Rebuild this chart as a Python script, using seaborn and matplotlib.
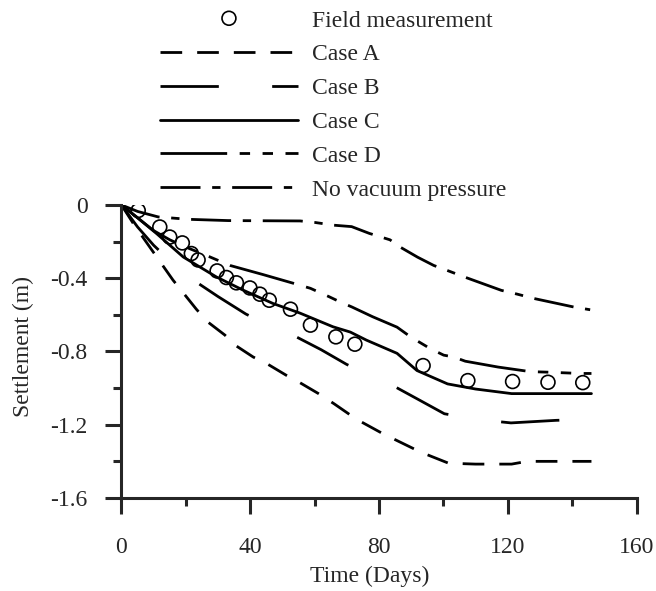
import numpy as np
import pandas as pd
import matplotlib
matplotlib.use("Agg")
import matplotlib.pyplot as plt
from matplotlib.ticker import MultipleLocator, FuncFormatter
import seaborn as sns

# Field measurement
field_t = [5.2, 11.9, 15.0, 18.9, 21.7, 23.8, 29.7, 32.6, 35.7, 39.9, 43.0, 45.9,
           52.5, 58.7, 66.6, 72.5, 93.7, 107.6, 121.5, 132.5, 143.3]
field_s = [-0.03, -0.12, -0.175, -0.207, -0.265, -0.30, -0.36, -0.396, -0.425, -0.453,
           -0.487, -0.52, -0.569, -0.656, -0.72, -0.76, -0.877, -0.959, -0.964, -0.968, -0.97]

# Case A
a_t = [0, 4, 8, 12.4, 16.0, 19.2, 23.3, 26.9, 32.1, 35.7, 40.9, 45.5, 51.2, 55.4,
       61.2, 66.0, 73.0, 80.8, 86.0, 93.0, 101.6, 110, 121.2, 126, 146]
a_s = [0, -0.11, -0.21, -0.32, -0.41, -0.48, -0.57, -0.64, -0.71, -0.77, -0.83, -0.87,
       -0.93, -0.97, -1.03, -1.085, -1.17, -1.245, -1.29, -1.35, -1.41, -1.415, -1.415,
       -1.40, -1.40]

# Case B
b_t = [0, 5, 10, 16, 23.6, 30, 38.6, 46, 54.3, 62, 69.9, 77, 84.7, 92, 100.3, 110,
       121, 135, 146]
b_s = [0, -0.12, -0.22, -0.32, -0.425, -0.50, -0.595, -0.66, -0.72, -0.79, -0.87, -0.93,
       -0.99, -1.06, -1.14, -1.17, -1.19, -1.176, -1.17]

# Case C
c_t = [0, 5, 10.9, 19.2, 29.5, 37.8, 47.1, 55.4, 65.7, 71.1, 76.1, 85.6, 91.8, 101.3,
       110, 121.2, 146]
c_s = [0, -0.07, -0.156, -0.284, -0.393, -0.465, -0.538, -0.59, -0.665, -0.694, -0.738,
       -0.81, -0.904, -0.977, -1.005, -1.03, -1.03]

# Case D
d_t = [0, 5, 10, 15, 20, 27, 33.7, 44, 53.9, 58.7, 64.4, 68, 71.6, 78, 85.6, 89.8,
       93.4, 96, 100.1, 103.2, 106.8, 117, 127, 132.7, 142.5, 146]
d_s = [0, -0.07, -0.14, -0.19, -0.23, -0.28, -0.33, -0.38, -0.43, -0.455, -0.50, -0.53,
       -0.557, -0.61, -0.667, -0.72, -0.758, -0.785, -0.82, -0.83, -0.853, -0.885, -0.91,
       -0.913, -0.92, -0.92]

# No vacuum pressure
n_t = [0, 5, 11.4, 20.7, 33.1, 55.5, 60, 65.8, 71.5, 77, 83.4, 86.6, 92, 97, 101,
       107, 118, 123, 128, 140.5, 145.6]
n_s = [0, -0.035, -0.065, -0.078, -0.085, -0.087, -0.095, -0.11, -0.118, -0.155, -0.19,
       -0.23, -0.285, -0.33, -0.356, -0.396, -0.466, -0.487, -0.51, -0.557, -0.572]

sns.set_style("ticks")
plt.rcParams["font.family"] = ["Liberation Serif", "DejaVu Serif"]
plt.rcParams["font.size"] = 17
plt.rcParams["axes.unicode_minus"] = False
plt.rcParams["lines.scale_dashes"] = False

fig = plt.figure(figsize=(6.56, 5.91), dpi=100)
ax = fig.add_axes([0.1852, 0.1574, 0.7851, 0.4957])

lw = 2.0
line_specs = [
    ("Case A", a_t, a_s, (0, (15.6, 10.8))),
    ("Case B", b_t, b_s, (0, (42, 38.4))),
    ("Case C", c_t, c_s, "-"),
    ("Case D", d_t, d_s, (0, (48, 9, 7.5, 9, 7.5, 9))),
    ("No vacuum pressure", n_t, n_s, (0, (28.8, 8.4, 6, 8.4))),
]
for name, t, s, ls in line_specs:
    sns.lineplot(x=t, y=s, ax=ax, color="black", linewidth=lw, linestyle=ls,
                 estimator=None, sort=False, label=name)

sns.scatterplot(x=field_t, y=field_s, ax=ax, marker="o", s=100, facecolor="none",
                edgecolor="black", linewidth=1.2, label="Field measurement", zorder=5)

ax.set_xlim(0, 160)
ax.set_ylim(-1.6, 0)
ax.xaxis.set_major_locator(MultipleLocator(40))
ax.xaxis.set_minor_locator(MultipleLocator(20))
ax.yaxis.set_major_locator(MultipleLocator(0.4))
ax.yaxis.set_minor_locator(MultipleLocator(0.2))
ax.yaxis.set_major_formatter(FuncFormatter(lambda v, p: "0" if abs(v) < 1e-9 else f"{v:.1f}"))

sns.despine(ax=ax)
for sp in ["left", "bottom"]:
    ax.spines[sp].set_linewidth(2.2)
ax.tick_params(which="major", length=11.5, width=2.2, direction="out", labelsize=17)
ax.tick_params(which="minor", length=6, width=2.2, direction="out")
ax.tick_params(axis="x", which="major", pad=16.5)
ax.tick_params(axis="y", which="major", pad=13)

ax.set_xlabel("Time (Days)", fontsize=17)
ax.set_ylabel("Settlement (m)", fontsize=17)
ax.xaxis.set_label_coords(0.482, -0.232)
ax.yaxis.set_label_coords(-0.17, 0.517)

handles, labels = ax.get_legend_handles_labels()
order = ["Field measurement", "Case A", "Case B", "Case C", "Case D", "No vacuum pressure"]
hmap = dict(zip(labels, handles))
ax.legend([hmap[k] for k in order], order, loc="upper left",
          bbox_to_anchor=(160 / 656, 1 - 10 / 591), bbox_transform=fig.transFigure,
          frameon=False, borderpad=0, borderaxespad=0, handlelength=5.84,
          handletextpad=0.6, labelspacing=0.52, scatterpoints=1, scatteryoffsets=[0.5],
          fontsize=17)

fig.savefig("out.png", dpi=100)
